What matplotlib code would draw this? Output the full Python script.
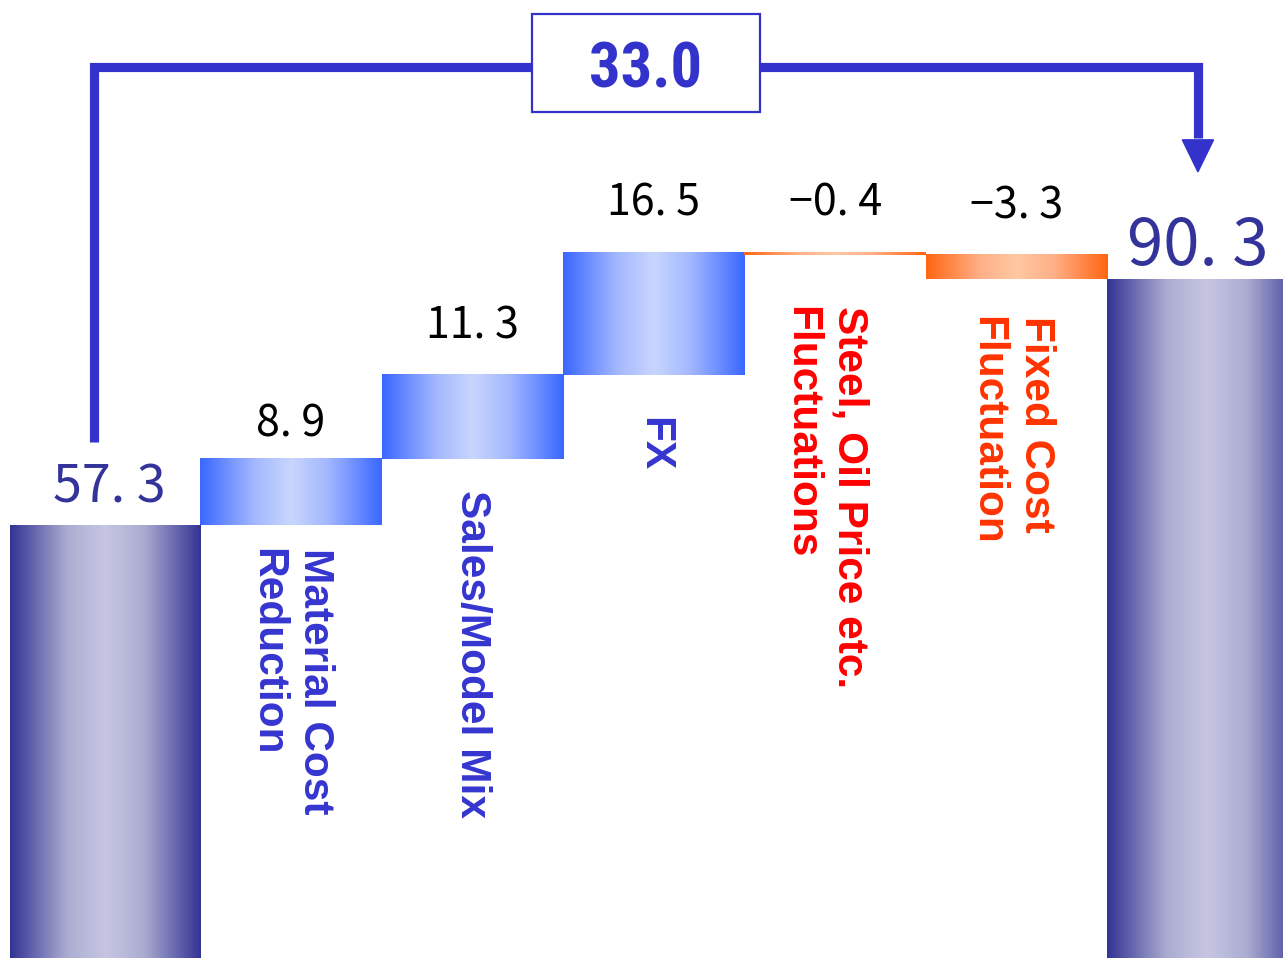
import numpy as np
import matplotlib
matplotlib.use("Agg")
import matplotlib.pyplot as plt
from matplotlib.colors import LinearSegmentedColormap
from matplotlib.patches import Polygon, Rectangle

# ---------------- data ----------------
start_value = 57.3
end_value = 90.3
step_values = [8.9, 11.3, 16.5, -0.4, -3.3]
step_labels = ["Material Cost\nReduction", "Sales/Model Mix", "FX",
               "Steel, Oil Price etc.\nFluctuations", "Fixed Cost\nFluctuation"]
total_change = 33.0

# ---------------- style ----------------
label_colors = ["#3535d0", "#3535d0", "#3535d0", "#ff0000", "#ff3300"]
label_gaps_px = [23, 31, 42, 51, 37]          # gap between bar bottom and label
label_dx_px = [0, 0, 0, -10, -5]
value_gaps_px = [22, 36, 36, 36, 36]          # gap between bar top and value
navy = "#333399"
line_blue = "#3333cc"

cm_total = LinearSegmentedColormap.from_list(
    "tot", [(0, "#333394"), (0.3, "#acacd2"), (0.5, "#c6c6e2"), (0.7, "#acacd2"), (1, "#333394")])
cm_pos = LinearSegmentedColormap.from_list(
    "pos", [(0, "#3a68ff"), (0.3, "#a4b8ff"), (0.5, "#c8d6fd"), (0.7, "#a4b8ff"), (1, "#3a68ff")])
cm_neg = LinearSegmentedColormap.from_list(
    "neg", [(0, "#ff6612"), (0.3, "#ffb088"), (0.5, "#ffc8a2"), (0.7, "#ffb088"), (1, "#ff6612")])

W, H, DPI = 1283, 958, 100
fig = plt.figure(figsize=(W / DPI, H / DPI), dpi=DPI)
ax = fig.add_axes([0, 0, 1, 1])
ax.set_xlim(-0.604, 6.469)
ax.set_ylim(-0.82, 127.77)
ax.axis("off")

PX = 0.72  # points per pixel at 100 dpi
grad = np.linspace(0, 1, 256).reshape(1, -1)


def gbar(x0, x1, y0, y1, cmap):
    ax.imshow(grad, cmap=cmap, extent=(x0, x1, min(y0, y1), max(y0, y1)),
              aspect="auto", interpolation="bicubic", zorder=2)


num_font = ["Noto Sans CJK JP", "DejaVu Sans"]


def fmt(v):
    s = f"{abs(v):.1f}".replace(".", ". ")
    return ("\u2212" if v < 0 else "") + s


# start bar
gbar(-0.55, 0.5, -1, start_value, cm_total)
ax.annotate(fmt(start_value), (0.0, start_value), xytext=(0, 23 * PX),
            textcoords="offset points", ha="center", va="baseline",
            fontsize=37.5, color=navy, family=num_font)

# steps
cum = start_value
for i, v in enumerate(step_values):
    xc = i + 1
    y0, y1 = cum, cum + v
    gbar(xc - 0.5, xc + 0.5, y0, y1, cm_pos if v >= 0 else cm_neg)
    top = max(y0, y1)
    bot = min(y0, y1)
    ax.annotate(fmt(v), (xc, top), xytext=(0, value_gaps_px[i] * PX),
                textcoords="offset points", ha="center", va="baseline",
                fontsize=31, color="black", family=num_font)
    ax.annotate(step_labels[i], (xc, bot),
                xytext=(label_dx_px[i] * PX, -label_gaps_px[i] * PX),
                textcoords="offset points", ha="center", va="top",
                rotation=270, rotation_mode="default", multialignment="left",
                linespacing=1.27, fontsize=30.5, fontweight="bold",
                color=label_colors[i], family=["Liberation Sans", "DejaVu Sans"])
    cum = y1

# end bar
n_end = len(step_values) + 1
gbar(n_end - 0.5, n_end + 0.6, -1, end_value, cm_total)
ax.annotate(fmt(end_value), (n_end, end_value), xytext=(0, 14 * PX),
            textcoords="offset points", ha="center", va="baseline",
            fontsize=47, color=navy, family=num_font)

# connector with arrow
x_left = 0 - 0.085
x_right = n_end
y_low = start_value + 11.1
y_top = 118.8
y_arrow_base = 109.0
y_tip = 104.7
ax.plot([x_left, x_left, x_right, x_right], [y_low, y_top, y_top, y_arrow_base + 0.3],
        color=line_blue, lw=6.6, solid_joinstyle="miter", solid_capstyle="butt", zorder=3)
ax.add_patch(Polygon([[x_right - 0.086, y_arrow_base], [x_right + 0.086, y_arrow_base],
                      [x_right, y_tip]], closed=True, color=line_blue, zorder=3))

# box with total change
bx, by, bw, bh = 2.957, 119.3, 1.257, 13.15
ax.add_patch(Rectangle((bx - bw / 2, by - bh / 2), bw, bh, facecolor="white",
                       edgecolor=line_blue, lw=1.6, zorder=4))
ax.text(bx, by - 1.0, f"{total_change:.1f}", ha="center", va="center", fontsize=45,
        fontweight="semibold", fontstretch="condensed", color=line_blue,
        family=["Liberation Sans Narrow", "Roboto Condensed", "DejaVu Sans"], zorder=5)

fig.savefig("out.png", dpi=DPI)
